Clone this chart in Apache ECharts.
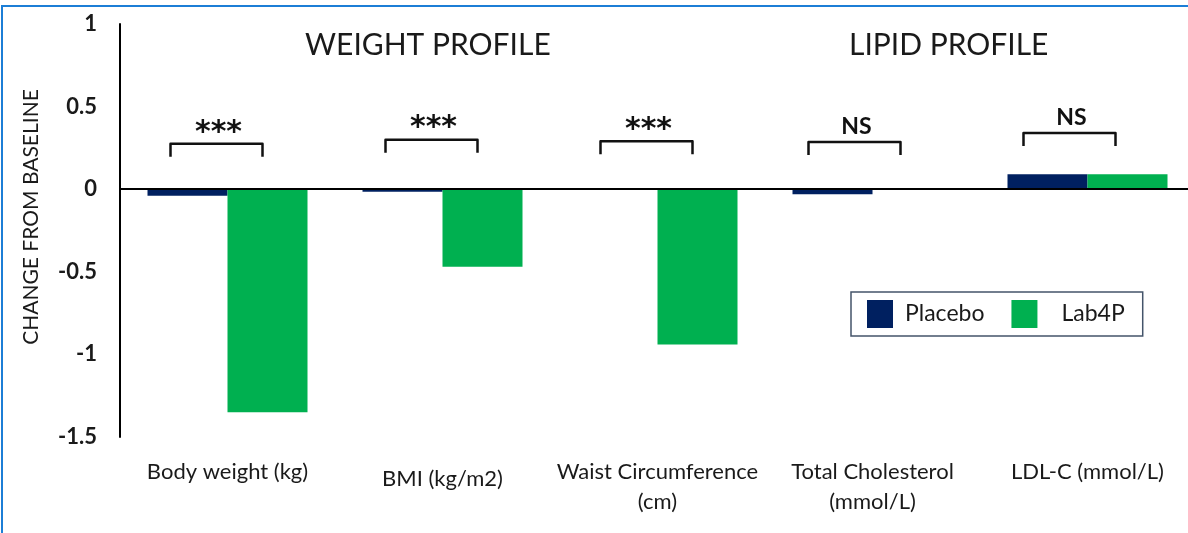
<!DOCTYPE html>
<html>
<head>
<meta charset="utf-8">
<script src="https://cdn.jsdelivr.net/npm/echarts@6/dist/echarts.min.js"></script>
<style>
  html, body { margin: 0; padding: 0; background: #fff; }
  #chart { position: absolute; left: 0; top: 0; width: 1188px; height: 533px; }
  /* blue frame at the top and left edge of the screenshot */
  #frame {
    position: absolute; left: 1px; top: 5px; width: 1187px; height: 528px;
    border-top: 2px solid #1c7ed6; border-left: 2px solid #1c7ed6;
    pointer-events: none;
  }
</style>
</head>
<body>
<div id="chart"></div>
<div id="frame"></div>
<script>
// 各指标（横轴类别）
const categories = ['Body weight (kg)', 'BMI (kg/m2)', 'Waist Circumference\n(cm)', 'Total Cholesterol\n(mmol/L)', 'LDL-C (mmol/L)'];
// 相对基线的变化
const placebo = [-0.04, -0.015, 0, -0.03, 0.09];
const lab4p = [-1.35, -0.47, -0.94, 0, 0.09];
// 显著性标记及括号高度
const sigLabels = ['***', '***', '***', 'NS', 'NS'];
const sigLevels = [0.275, 0.3, 0.29, 0.285, 0.34];
const yTicks = { min: -1.5, max: 1, interval: 0.5 };

const FONT = 'Lato, "Open Sans", sans-serif';
const TEXT = '#1a1a1a';

var myChart = echarts.init(document.getElementById('chart'));

myChart.setOption({
  animation: false,
  grid: { left: 120, top: 24, width: 1075, height: 413, outerBoundsMode: 'none' },
  graphic: [
    { type: 'text', left: 305, top: 30, style: { text: 'WEIGHT PROFILE', font: '30px ' + FONT, fill: TEXT } },
    { type: 'text', left: 849, top: 30, style: { text: 'LIPID PROFILE', font: '30px ' + FONT, fill: TEXT } }
  ],
  legend: {
    left: 851, top: 292,
    orient: 'horizontal',
    padding: [8, 18, 8, 16],
    borderColor: '#44546a',
    borderWidth: 1.5,
    itemWidth: 26, itemHeight: 28,
    itemGap: 27,
    icon: 'rect',
    textStyle: { fontFamily: FONT, fontSize: 23, color: TEXT, padding: [0, 0, 0, 7] },
    data: [
      { name: 'Placebo' },
      { name: 'Lab4P', textStyle: { padding: [0, 0, 0, 19] } }
    ]
  },
  xAxis: [
    {
      type: 'category',
      data: categories,
      position: 'bottom',
      axisLine: { show: false, onZero: false },
      axisTick: { show: false },
      axisLabel: {
        interval: 0, margin: 20, fontFamily: FONT, fontSize: 22, color: TEXT, lineHeight: 30,
        // BMI 标签在原图中略低
        formatter: function (v) { return v.indexOf('BMI') === 0 ? '{low|' + v + '}' : v; },
        rich: { low: { fontFamily: FONT, fontSize: 22, color: TEXT, lineHeight: 30, padding: [14, 0, 0, 0] } }
      }
    },
    {
      // 零线
      type: 'category',
      data: categories,
      position: 'top',
      z: 10,
      axisLine: { show: true, onZero: true, onZeroAxisIndex: 0, lineStyle: { color: '#000', width: 2 } },
      axisTick: { show: false },
      axisLabel: { show: false }
    }
  ],
  yAxis: {
    type: 'value',
    min: yTicks.min, max: yTicks.max, interval: yTicks.interval,
    name: 'CHANGE FROM BASELINE',
    nameLocation: 'middle',
    nameGap: 78,
    nameTextStyle: { fontFamily: FONT, fontSize: 21, color: TEXT, padding: [0, 0, 0, 27] },
    axisLine: { show: true, lineStyle: { color: '#000', width: 2 } },
    axisTick: { show: false },
    splitLine: { show: false },
    axisLabel: { margin: 23, fontFamily: FONT, fontSize: 22, fontWeight: 'bold', color: TEXT }
  },
  series: [
    {
      name: 'Placebo', type: 'bar', data: placebo,
      barWidth: 80, barGap: '0%',
      itemStyle: { color: '#002060' }
    },
    {
      name: 'Lab4P', type: 'bar', data: lab4p,
      barWidth: 80, barGap: '0%',
      itemStyle: { color: '#00b050' }
    },
    {
      // 显著性括号
      type: 'custom',
      silent: true,
      z: 5,
      data: sigLevels.map((v, i) => [i, v]),
      renderItem: function (params, api) {
        const p = api.coord([api.value(0), api.value(1)]);
        const shift = params.dataIndex >= 3 ? -18 : -11;
        const cx = p[0] + shift, half = 46, leg = 13;
        const label = sigLabels[params.dataIndex];
        const isStar = label === '***';
        return {
          type: 'group',
          children: [
            {
              type: 'polyline',
              shape: { points: [[cx - half, p[1] + leg], [cx - half, p[1]], [cx + half, p[1]], [cx + half, p[1] + leg]] },
              style: { stroke: '#111', lineWidth: 2.5, fill: null, lineJoin: 'round' }
            },
            {
              type: 'text',
              style: {
                text: label,
                x: cx + 2,
                y: isStar ? p[1] + 4 : p[1] - 4,
                align: 'center',
                verticalAlign: 'bottom',
                font: isStar ? 'bold 30px "DejaVu Sans"' : 'bold 23px ' + FONT,
                fill: '#111'
              }
            }
          ]
        };
      }
    }
  ]
});
</script>
</body>
</html>
